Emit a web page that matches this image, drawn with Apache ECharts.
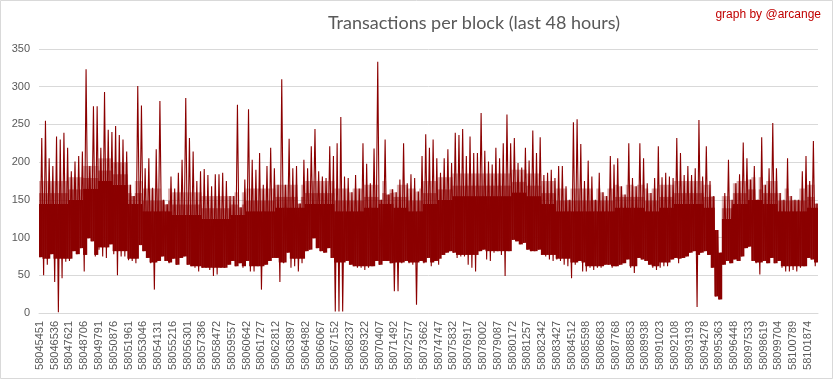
<!DOCTYPE html>
<html><head><meta charset="utf-8">
<script src="https://cdn.jsdelivr.net/npm/echarts@6/dist/echarts.min.js"></script>
<style>html,body{margin:0;padding:0;background:#fff}#c{width:833px;height:379px}</style>
</head><body><div id="c"></div>
<script>
const tickLabels = ['58045451','58046536','58047621','58048706','58049791','58050876','58051961','58053046','58054131','58055216','58056301','58057386','58058472','58059557','58060642','58061727','58062812','58063897','58064982','58066067','58067152','58068237','58069322','58070407','58071492','58072577','58073662','58074747','58075832','58076917','58078002','58079087','58080172','58081257','58082342','58083427','58084512','58085598','58086683','58087768','58088853','58089938','58091023','58092108','58093193','58094278','58095363','58096448','58097533','58098619','58099704','58100789','58101874'];

// per-segment maximum and minimum transactions per block
const highs = [232,255,205,195,234,230,239,219,188,201,208,214,323,195,274,274,219,293,243,240,
248,236,230,214,170,155,301,275,192,205,166,217,281,150,144,181,165,186,203,285,
232,214,175,188,191,183,168,184,184,186,175,155,155,276,140,177,270,203,190,212,
170,195,219,192,170,310,170,231,192,195,145,203,192,221,244,188,181,179,221,208,
225,260,181,179,160,183,165,225,198,172,218,333,150,230,157,164,160,177,225,172,
184,179,161,208,237,219,230,205,186,205,217,199,239,236,244,208,234,212,212,265,
215,201,197,219,205,225,263,225,232,199,193,219,202,242,212,233,183,186,190,179,
195,195,168,150,253,257,224,175,202,181,150,186,160,155,208,197,205,168,157,225,
179,168,225,205,172,159,179,221,180,186,181,179,232,212,183,195,183,192,256,181,
221,175,155,110,80,159,203,150,172,184,226,205,177,195,150,233,170,192,252,192,
159,150,205,155,150,150,188,208,175,228,145];
const lows = [74,50,64,78,41,1,46,68,69,82,78,86,55,99,95,75,84,75,73,91,
78,50,75,75,70,69,66,90,82,73,66,31,69,75,69,66,72,64,73,75,
64,62,60,55,60,60,57,49,51,60,60,64,69,62,66,60,69,55,55,62,
31,64,69,73,73,41,66,80,60,62,55,66,82,84,99,86,82,80,86,73,
2,2,2,69,64,62,60,60,57,60,62,69,64,69,69,66,29,29,66,69,
66,64,11,69,66,73,62,69,64,77,80,82,80,73,75,75,64,60,55,82,
84,71,69,80,82,77,49,82,97,95,91,93,84,82,82,84,77,75,71,69,
71,69,64,62,46,64,69,55,55,60,57,60,60,64,64,60,62,64,66,71,
60,53,73,71,69,64,60,57,60,62,62,71,73,66,73,75,80,82,8,80,
82,77,60,22,18,64,69,66,71,69,75,86,88,69,66,51,69,66,73,66,
69,60,55,55,57,55,60,62,73,71,62];
// levels between which the band looks solid, one value per tick interval
const denseTop = [145,145,150,165,175,170,145,135,135,130,130,125,125,130,135,135,140,140,145,145,
135,135,140,145,140,135,145,150,155,155,155,155,160,155,145,135,135,135,135,140,
140,135,140,145,145,140,125,145,150,145,135,135,140];
const denseBottom = [72,72,72,77,87,82,72,67,67,62,62,60,60,62,62,62,67,72,77,67,
67,62,62,62,67,67,67,72,77,77,82,82,87,82,77,72,67,62,62,62,
62,62,67,72,77,20,15,67,67,62,62,62,67];

const SEG_PER_TICK = 4, PER_TICK = 8;
const FADE = [0, 14, 30];          // solid part, then two thinner-looking bands above it
const base = [], layers = [[], [], []], trace = [];
for (let i = 0; i < highs.length; i++) {
  const k = Math.floor(i / SEG_PER_TICK);
  const dt = denseTop[k];
  const b = Math.min(Math.max(lows[i], denseBottom[k]), highs[i]);
  let prev = b;
  const sizes = FADE.map(f => {
    const t = Math.max(Math.min(highs[i], dt + f), prev);
    const s = t - prev; prev = t; return s;
  });
  for (let r = 0; r < 2; r++) {
    base.push(b);
    sizes.forEach((s, n) => layers[n].push(s));
  }
  trace.push(lows[i], highs[i]);
}
const cats = trace.map((_, j) => String(j));
const layerColors = ['#8b0000', 'rgba(139,0,0,0.62)', 'rgba(139,0,0,0.3)'];

const chart = echarts.init(document.getElementById('c'), null, {renderer: 'canvas'});
chart.setOption({
  animation: false,
  backgroundColor: '#ffffff',
  title: {
    text: 'Transactions per block (last 48 hours)',
    left: 469, top: 9, textAlign: 'center',
    textStyle: {fontSize: 18, fontWeight: 'normal', color: '#595959', fontFamily: 'Lato, "Liberation Sans", sans-serif'}
  },
  graphic: [
    {type: 'rect', shape: {x: 0.5, y: 0.5, width: 832, height: 378}, style: {fill: 'none', stroke: '#d9d9d9', lineWidth: 1}, silent: true},
    {type: 'text', right: 12, top: 9, style: {text: 'graph by @arcange', fill: '#c00000', font: '12px "Liberation Sans", Arial, sans-serif'}}
  ],
  grid: {left: 39, right: 15, top: 49, height: 264, containLabel: false},
  xAxis: {
    type: 'category', data: cats, boundaryGap: true,
    axisLine: {lineStyle: {color: '#d9d9d9'}},
    axisTick: {show: false},
    axisLabel: {
      rotate: 90, interval: (idx) => idx % PER_TICK === 0,
      formatter: (v, idx) => tickLabels[idx / PER_TICK] || '',
      color: '#595959', fontSize: 11, margin: 8, fontFamily: '"Liberation Sans", Arial, sans-serif'
    },
    splitLine: {show: false}
  },
  yAxis: {
    type: 'value', min: 0, max: 350, interval: 50,
    axisLine: {show: false}, axisTick: {show: false},
    axisLabel: {color: '#595959', fontSize: 11, margin: 9, fontFamily: '"Liberation Sans", Arial, sans-serif'},
    splitLine: {lineStyle: {color: '#d9d9d9', width: 1}}
  },
  series: [
    {type: 'bar', stack: 'core', data: base, barWidth: 2.3, silent: true, itemStyle: {color: 'rgba(0,0,0,0)'}},
    ...layers.map((d, n) => ({type: 'bar', stack: 'core', data: d, barWidth: 2.3, silent: true,
      itemStyle: {color: layerColors[n]}})),
    {type: 'line', data: trace, showSymbol: false, symbol: 'none', sampling: null, silent: true,
     lineStyle: {color: '#8b0000', width: 1.1}}
  ]
});
</script>
</body></html>
